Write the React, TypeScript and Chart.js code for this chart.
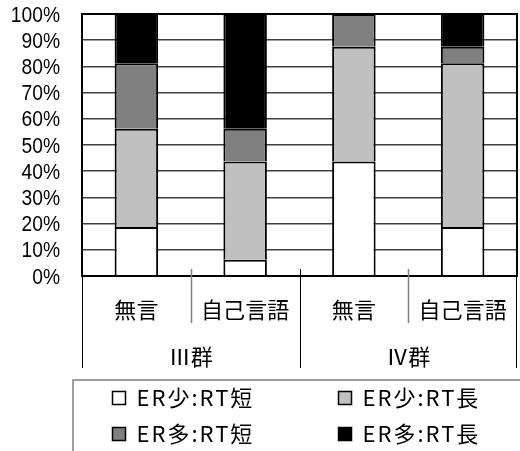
import { useEffect, useRef } from 'react';
import { Chart, registerables } from 'chart.js';

Chart.register(...registerables);

// Sub-categories along the x axis, and the groups they belong to
const categories = ['無言', '自己言語', '無言', '自己言語'];
const groups = ['Ⅲ群', 'Ⅳ群'];
const groupSizes = [2, 2];

// Series (percent of each bar)
const seriesNames = ['ER少:RT短', 'ER少:RT長', 'ER多:RT短', 'ER多:RT長'];
const erLowRtShort = [18.75, 6.25, 43.75, 18.75];
const erLowRtLong = [37.5, 37.5, 43.75, 62.5];
const erHighRtShort = [25, 12.5, 12.5, 6.25];
const erHighRtLong = [18.75, 43.75, 0, 12.5];
const seriesColors = ['#FFFFFF', '#C0C0C0', '#808080', '#000000'];

// Value axis
const yMin = 0;
const yMax = 100;
const yStep = 10;

const CJK = '"Noto Sans CJK JP", "Noto Sans CJK SC", sans-serif';
const LATIN = '"Liberation Sans", Arial, sans-serif';

function strokeLine(ctx: CanvasRenderingContext2D, x1: number, y1: number, x2: number, y2: number, color: string, width: number) {
  ctx.beginPath();
  ctx.strokeStyle = color;
  ctx.lineWidth = width;
  ctx.moveTo(x1, y1);
  ctx.lineTo(x2, y2);
  ctx.stroke();
}

// Black frame around the plotting area
const plotFramePlugin = {
  id: 'plotFrame',
  afterDatasetsDraw(chart: any) {
    const { ctx, chartArea } = chart;
    ctx.save();
    ctx.strokeStyle = '#000';
    ctx.lineWidth = 2;
    ctx.strokeRect(chartArea.left, chartArea.top, chartArea.right - chartArea.left, chartArea.bottom - chartArea.top);
    ctx.restore();
  },
};

// Percent labels of the value axis, set in a slightly condensed face
const valueLabelsPlugin = {
  id: 'valueLabels',
  afterDraw(chart: any) {
    const { ctx, chartArea } = chart;
    const y = chart.scales.y;
    const squeeze = 0.875;
    const right = chartArea.left - 22;
    ctx.save();
    ctx.fillStyle = '#000';
    ctx.font = `22px ${LATIN}`;
    ctx.textAlign = 'right';
    ctx.textBaseline = 'middle';
    y.ticks.forEach((t: any) => {
      const py = y.getPixelForValue(t.value) + 1.5;
      ctx.save();
      ctx.translate(right, py);
      ctx.scale(squeeze, 1);
      ctx.fillText(`${t.value}%`, 0, 0);
      ctx.restore();
    });
    ctx.restore();
  },
};

// Two-level category axis: sub-category labels, then group labels, with divider lines
const categoryAxisPlugin = {
  id: 'categoryAxis',
  afterDraw(chart: any) {
    const { ctx, chartArea } = chart;
    const x = chart.scales.x;
    const bottom = chartArea.bottom;
    const step = x.getPixelForValue(1) - x.getPixelForValue(0);
    const edge = (i: number) => x.getPixelForValue(i) - step / 2;
    const subDepth = 47;
    const groupDepth = 92;
    const inset = 7;

    ctx.save();
    strokeLine(ctx, chartArea.left + 0.5, bottom, chartArea.left + 0.5, bottom + groupDepth, '#000', 1);
    strokeLine(ctx, chartArea.right - 0.5, bottom, chartArea.right - 0.5, bottom + groupDepth, '#000', 1);

    ctx.fillStyle = '#000';
    ctx.textAlign = 'center';
    ctx.textBaseline = 'middle';
    ctx.font = `22px ${CJK}`;

    let start = 0;
    groupSizes.forEach((size, g) => {
      for (let k = 1; k < size; k++) {
        const px = Math.round(edge(start + k)) + 0.5;
        strokeLine(ctx, px, bottom - inset, px, bottom + subDepth, '#808080', 1.5);
      }
      if (g < groupSizes.length - 1) {
        const px = Math.round(edge(start + size)) + 0.5;
        strokeLine(ctx, px, bottom - inset, px, bottom + groupDepth, '#000', 1);
      }
      const cx = (edge(start) + edge(start + size)) / 2;
      ctx.fillText(groups[g], cx, bottom + 81);
      start += size;
    });

    categories.forEach((c, i) => {
      ctx.fillText(c, x.getPixelForValue(i), bottom + 34);
    });
    ctx.restore();
  },
};

// Boxed two-column legend under the axis
const boxedLegendPlugin = {
  id: 'boxedLegend',
  afterDraw(chart: any) {
    const { ctx } = chart;
    const frame = { left: 73, top: 380 };
    const columns = [112.5, 338.5];
    const rows = [398, 434];
    const box = 13;

    ctx.save();
    ctx.strokeStyle = '#808080';
    ctx.lineWidth = 1.5;
    ctx.strokeRect(frame.left, frame.top, chart.width + 20, chart.height);

    ctx.font = `22px ${CJK}`;
    (ctx as any).letterSpacing = '2px';
    ctx.textAlign = 'left';
    ctx.textBaseline = 'middle';
    chart.data.datasets.forEach((ds: any, i: number) => {
      const cx = columns[i % 2];
      const cy = rows[Math.floor(i / 2)];
      ctx.fillStyle = ds.backgroundColor;
      ctx.fillRect(cx, cy - box / 2, box, box);
      ctx.strokeStyle = '#000';
      ctx.lineWidth = 1.5;
      ctx.strokeRect(cx, cy - box / 2, box, box);
      ctx.fillStyle = '#000';
      ctx.fillText(ds.label, cx + 24, cy);
    });
    ctx.restore();
  },
};

export default function App() {
  const canvasRef = useRef<HTMLCanvasElement>(null);

  useEffect(() => {
    if (!canvasRef.current) return;
    const seriesValues = [erLowRtShort, erLowRtLong, erHighRtShort, erHighRtLong];
    const chart = new Chart(canvasRef.current, {
      type: 'bar',
      data: {
        labels: categories,
        datasets: seriesValues.map((values, i) => ({
          label: seriesNames[i],
          data: values,
          backgroundColor: seriesColors[i],
          borderColor: '#000',
          borderWidth: 2,
          borderSkipped: 'bottom',
          barPercentage: 0.4,
          categoryPercentage: 1,
        })),
      },
      options: {
        animation: false,
        responsive: false,
        devicePixelRatio: 1,
        layout: { padding: { top: 14, right: 3, bottom: 175, left: 0 } },
        plugins: {
          legend: { display: false },
          tooltip: { enabled: false },
        },
        scales: {
          x: {
            stacked: true,
            display: false,
          },
          y: {
            stacked: true,
            min: yMin,
            max: yMax,
            afterFit(scale: any) {
              scale.width = 82;
            },
            ticks: {
              display: false,
              autoSkip: false,
              stepSize: yStep,
            },
            grid: {
              drawTicks: false,
              color: '#404040',
              lineWidth: 1.5,
            },
            border: { display: false },
          },
        },
      },
      plugins: [plotFramePlugin, valueLabelsPlugin, categoryAxisPlugin, boxedLegendPlugin],
    });
    return () => chart.destroy();
  }, []);

  return (
    <div style={{ position: 'fixed', left: 0, top: 0, width: 520, height: 451, background: '#fff' }}>
      <canvas ref={canvasRef} width={520} height={451} />
    </div>
  );
}
